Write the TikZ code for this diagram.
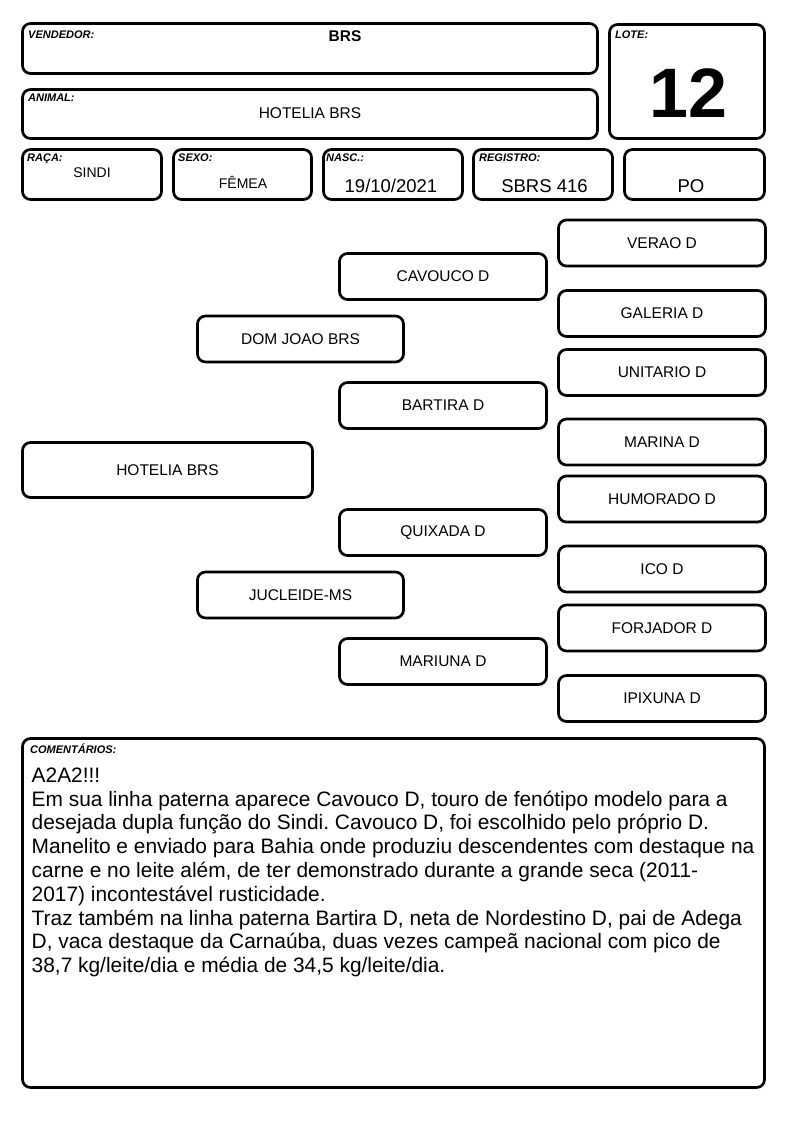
\documentclass[tikz,border=0pt]{standalone}
\usepackage{fontspec}
\setmainfont{Liberation Sans}
\frenchspacing
\begin{document}
\begin{tikzpicture}[x=1pt,y=-1pt,
  box/.style={draw, line width=2.7pt, rounded corners=8pt, inner sep=0pt},
  pbox/.style={box, minimum width=207, minimum height=46, font=\fontsize{15.5}{18}\selectfont},
  lbl/.style={anchor=base west, inner sep=0pt, font=\fontsize{11}{12}\selectfont\bfseries\itshape},
  val/.style={anchor=base, inner sep=0pt, font=\fontsize{18.5}{22}\selectfont}]
\useasboundingbox (0,0) rectangle (794,1123);
% header boxes
\node[box, minimum width=575, minimum height=50] (vend) at (310,48.5) {};
\node[box, minimum width=575, minimum height=49] (animal) at (310,114) {};
\node[box, minimum width=155, minimum height=114] (lote) at (687,81.5) {};
\node[box, minimum width=139, minimum height=50] (raca) at (92,174.5) {};
\node[box, minimum width=138, minimum height=50] (sexo) at (242.5,174.5) {};
\node[box, minimum width=139, minimum height=50] (nasc) at (393,174.5) {};
\node[box, minimum width=139, minimum height=50] (reg) at (543,174.5) {};
\node[box, minimum width=140, minimum height=50] (po) at (694.5,174.5) {};
% header texts
\node[lbl] (lvend) at (28,39) {VENDEDOR:};
\node[val, font=\fontsize{15.5}{18}\selectfont\bfseries] (tvend) at (345,42) {BRS};
\node[lbl] (lanimal) at (28,102) {ANIMAL:};
\node[val, font=\fontsize{15.5}{18}\selectfont] (tanimal) at (310,119) {HOTELIA BRS};
\node[lbl] (llote) at (615,39) {LOTE:};
\node[val, font=\fontsize{70}{80}\selectfont\bfseries] (tlote) at (688,118) {12};
\node[lbl] (lraca) at (27,162) {RAÇA:};
\node[val, font=\fontsize{14}{17}\selectfont] (traca) at (92,178) {SINDI};
\node[lbl] (lsexo) at (178,162) {SEXO:};
\node[val, font=\fontsize{14}{17}\selectfont] (tsexo) at (243,189) {FÊMEA};
\node[lbl] (lnasc) at (326,162) {NASC.:};
\node[val] (tnasc) at (391,193) {19/10/2021};
\node[lbl] (lreg) at (479,162) {REGISTRO:};
\node[val] (treg) at (544.5,193) {SBRS 416};
\node[val] (tpo) at (691,193) {PO};
% pedigree
\node[box, minimum width=290, minimum height=55, font=\fontsize{15.5}{18}\selectfont] (hotelia) at (167.5,470) {HOTELIA BRS};
\node[pbox, minimum width=206] (domjoao) at (300.5,339) {DOM JOAO BRS};
\node[pbox, minimum width=206] (jucleide) at (300.5,595) {JUCLEIDE-MS};
\node[pbox] (cavouco) at (443,276.5) {CAVOUCO D};
\node[pbox] (bartira) at (443,405.5) {BARTIRA D};
\node[pbox] (quixada) at (443,532.5) {QUIXADA D};
\node[pbox] (mariuna) at (443,661.5) {MARIUNA D};
\node[pbox] (verao) at (662,243) {VERAO D};
\node[pbox] (galeria) at (662,313.5) {GALERIA D};
\node[pbox] (unitario) at (662,372.5) {UNITARIO D};
\node[pbox] (marina) at (662,442) {MARINA D};
\node[pbox] (humorado) at (662,499) {HUMORADO D};
\node[pbox] (ico) at (662,569) {ICO D};
\node[pbox] (forjador) at (662,628) {FORJADOR D};
\node[pbox] (ipixuna) at (662,698.5) {IPIXUNA D};
% comments
\node[box, minimum width=742, minimum height=349] (coment) at (393.5,913) {};
\node[lbl] (lcoment) at (30,753) {COMENTÁRIOS:};
\node[anchor=north west, inner sep=0pt, align=left, font=\fontsize{20.9}{23.8}\selectfont] (tcoment) at (31.5,767.5) {A2A2!!!\\
Em sua linha paterna aparece Cavouco D, touro de fenótipo modelo para a\\
desejada dupla função do Sindi. Cavouco D, foi escolhido pelo próprio D.\\
Manelito e enviado para Bahia onde produziu descendentes com destaque na\\
carne e no leite além, de ter demonstrado durante a grande seca (2011-\\
2017) incontestável rusticidade.\\
Traz também na linha paterna Bartira D, neta de Nordestino D, pai de Adega\\
D, vaca destaque da Carnaúba, duas vezes campeã nacional com pico de\\
38,7 kg/leite/dia e média de 34,5 kg/leite/dia.};
\end{tikzpicture}
\end{document}
